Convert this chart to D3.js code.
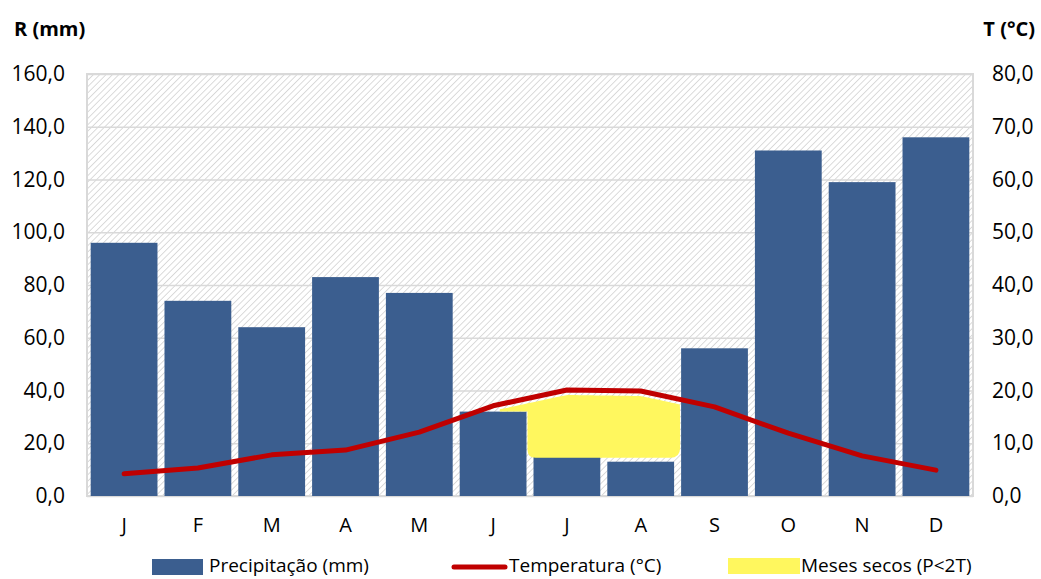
<!DOCTYPE html>
<html>
<head>
<meta charset="utf-8">
<script src="https://cdn.jsdelivr.net/npm/d3@7"></script>
<style>
  body { margin: 0; background: #fff; }
  text { font-family: "Open Sans", "Noto Sans", sans-serif; fill: #000; }
</style>
</head>
<body>
<div id="container"></div>
<script>
// Chart data
const months = ['J', 'F', 'M', 'A', 'M', 'J', 'J', 'A', 'S', 'O', 'N', 'D'];
const precip = [96, 74, 64, 83, 77, 32, 15, 13, 56, 131, 119, 136];
const temp = [4.2, 5.3, 7.8, 8.7, 12.1, 17.1, 20.1, 19.9, 16.9, 11.9, 7.6, 4.9];
const leftTicks = [0, 20, 40, 60, 80, 100, 120, 140, 160];
const rightTicks = [0, 10, 20, 30, 40, 50, 60, 70, 80];
// dry period (indexes into months) and lower edge of the yellow area (mm)
const dryMonths = [6, 7];
const dryBottom = 14.5;

const W = 1041, H = 579;
const margin = {left: 87, right: 68, top: 74, bottom: 83};
const width = W - margin.left - margin.right;
const height = H - margin.top - margin.bottom;

const svg = d3.select('#container').append('svg')
  .attr('width', W).attr('height', H);

// hatch pattern for plot background
const defs = svg.append('defs');
defs.append('pattern')
  .attr('id', 'hatch')
  .attr('patternUnits', 'userSpaceOnUse')
  .attr('width', 4.5).attr('height', 4.5)
  .attr('patternTransform', 'rotate(45)')
  .append('line')
  .attr('x1', 0).attr('y1', 0).attr('x2', 0).attr('y2', 4.5)
  .attr('stroke', '#d2d2d2').attr('stroke-width', 1.6);

const chart = svg.append('g')
  .attr('transform', `translate(${margin.left}, ${margin.top})`);

const idx = months.map((m, i) => i);
const x = d3.scaleBand().domain(idx).range([0, width]).paddingInner(0.095).paddingOuter(0.05);
const yP = d3.scaleLinear().domain([0, 160]).range([height, 0]);
const yT = d3.scaleLinear().domain([0, 80]).range([height, 0]);

// background
chart.append('rect')
  .attr('width', width).attr('height', height)
  .attr('fill', 'url(#hatch)');

// grid lines
chart.append('g')
  .call(d3.axisLeft(yP).tickValues(leftTicks).tickSize(-width).tickFormat(''))
  .call(g => g.select('.domain').remove())
  .call(g => g.selectAll('line').attr('stroke', '#d9d9d9').attr('stroke-width', 1.5));

// border
chart.append('rect')
  .attr('width', width).attr('height', height)
  .attr('fill', 'none').attr('stroke', '#d9d9d9').attr('stroke-width', 2);

// bars
chart.selectAll('.bar')
  .data(precip)
  .enter()
  .append('rect')
  .attr('class', 'bar')
  .attr('x', (d, i) => x(i))
  .attr('y', d => yP(d))
  .attr('width', x.bandwidth())
  .attr('height', d => height - yP(d))
  .attr('fill', '#3b5e8f');

// dry months area: from band start of first dry month to band end of last
const tLine = d3.scaleLinear()
  .domain(idx.map(i => x(i) + x.bandwidth() / 2))
  .range(temp.map(t => yT(t)));
const x0 = x(dryMonths[0]) - 6;
const x1 = x(dryMonths[dryMonths.length - 1]) + x.bandwidth() + 6;
const xStart = x(dryMonths[0] - 1) + x.bandwidth() * 0.6;
const topPts = d3.range(xStart, x1 + 1, 4).map(px => [px, tLine(px) + 5]);
const yb = yP(dryBottom);
const yBarJun = yP(precip[dryMonths[0] - 1]);
const dryPath = d3.path();
dryPath.moveTo(topPts[0][0], topPts[0][1]);
topPts.forEach(p => dryPath.lineTo(p[0], p[1]));
dryPath.quadraticCurveTo(x1, topPts[topPts.length - 1][1] + 4, x1, topPts[topPts.length - 1][1] + 14);
dryPath.lineTo(x1, yb - 10);
dryPath.quadraticCurveTo(x1, yb, x1 - 10, yb);
dryPath.lineTo(x0 + 8, yb);
dryPath.quadraticCurveTo(x0, yb, x0, yb - 8);
dryPath.lineTo(x0, yBarJun);
dryPath.lineTo(topPts[0][0], yBarJun);
dryPath.closePath();
chart.append('path')
  .attr('d', dryPath.toString())
  .attr('fill', '#fff75e');

// temperature line
chart.append('path')
  .datum(temp)
  .attr('fill', 'none')
  .attr('stroke', '#c00000')
  .attr('stroke-width', 5)
  .attr('stroke-linecap', 'round')
  .attr('stroke-linejoin', 'round')
  .attr('d', d3.line()
    .x((d, i) => x(i) + x.bandwidth() / 2)
    .y(d => yT(d)));

// axes
const fmt = d => d.toFixed(1).replace('.', ',');
const left = chart.append('g')
  .call(d3.axisLeft(yP).tickValues(leftTicks).tickSize(0).tickPadding(22).tickFormat(fmt));
left.select('.domain').remove();
left.selectAll('text').style('font-size', '21px');

const right = chart.append('g')
  .attr('transform', `translate(${width}, 0)`)
  .call(d3.axisRight(yT).tickValues(rightTicks).tickSize(0).tickPadding(19).tickFormat(fmt));
right.select('.domain').remove();
right.selectAll('text').style('font-size', '21px');

const bottom = chart.append('g')
  .attr('transform', `translate(0, ${height})`)
  .call(d3.axisBottom(x).tickSize(0).tickPadding(22).tickFormat(i => months[i]));
bottom.select('.domain').remove();
bottom.selectAll('text').style('font-size', '20px');

// axis titles
svg.append('text')
  .attr('x', 14).attr('y', 36)
  .style('font-size', '20px').style('font-weight', 'bold')
  .text('R (mm)');
svg.append('text')
  .attr('x', 1035).attr('y', 36)
  .attr('text-anchor', 'end')
  .style('font-size', '20px').style('font-weight', 'bold')
  .text('T (°C)');

// legend
const leg = svg.append('g').attr('transform', 'translate(0, 567)');
leg.append('rect').attr('x', 152).attr('y', -8).attr('width', 51).attr('height', 16).attr('fill', '#3b5e8f');
leg.append('text').attr('x', 209).attr('y', 5).style('font-size', '19px').text('Precipitação (mm)');
leg.append('line').attr('x1', 454).attr('x2', 505).attr('y1', 0).attr('y2', 0)
  .attr('stroke', '#c00000').attr('stroke-width', 5).attr('stroke-linecap', 'round');
leg.append('text').attr('x', 509).attr('y', 5).style('font-size', '19px').text('Temperatura (°C)');
leg.append('rect').attr('x', 728).attr('y', -9).attr('width', 72).attr('height', 16).attr('fill', '#fff75e');
leg.append('text').attr('x', 801).attr('y', 5).style('font-size', '19px').text('Meses secos (P<2T)');
</script>
</body>
</html>
